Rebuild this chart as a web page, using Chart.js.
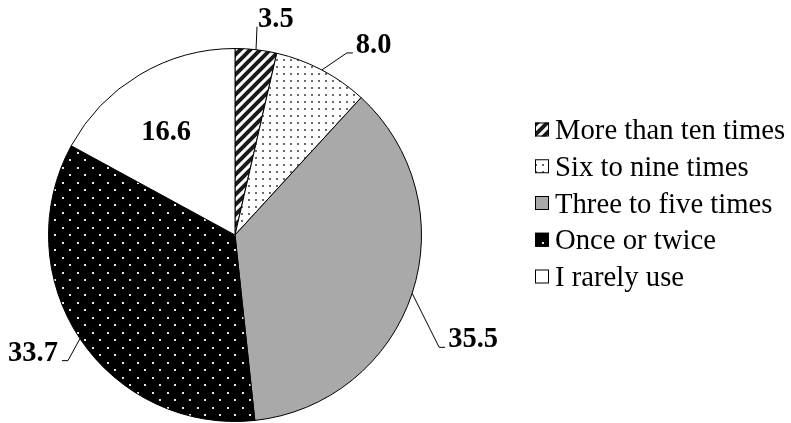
<!DOCTYPE html>
<html>
<head>
<meta charset="utf-8">
<script src="https://cdn.jsdelivr.net/npm/chart.js@4"></script>
<style>
  body { margin: 0; background: #fff; }
  #wrap { width: 791px; height: 423px; position: relative; }
</style>
</head>
<body>
<div id="wrap"><canvas id="myChart"></canvas></div>
<script>
const categories = ['More than ten times', 'Six to nine times', 'Three to five times', 'Once or twice', 'I rarely use'];
const shares = [3.5, 8.0, 35.5, 33.7, 16.6];
const valueLabels = ['3.5', '8.0', '35.5', '33.7', '16.6'];

const SERIF = "'Liberation Serif', 'Times New Roman', serif";

// little tiles for the hatch fills
function makeTile(w, h, draw) {
    const c = document.createElement('canvas');
    c.width = w; c.height = h;
    const g = c.getContext('2d');
    g.fillStyle = '#fff';
    g.fillRect(0, 0, w, h);
    draw(g, w, h);
    return g.createPattern(c, 'repeat');
}

const stripes = makeTile(10, 10, function (g, s) {
    g.strokeStyle = '#1a1a1a';
    g.lineWidth = 4;
    g.beginPath();
    g.moveTo(-2, s + 2); g.lineTo(s + 2, -2);
    g.moveTo(-2, 2); g.lineTo(2, -2);
    g.moveTo(s - 2, s + 2); g.lineTo(s + 2, s - 2);
    g.stroke();
});
const lightDots = makeTile(7, 7, function (g) {
    g.fillStyle = '#6a6a6a';
    g.fillRect(3, 3, 2, 2);
});
const darkDots = makeTile(15, 15, function (g, w, h) {
    g.fillStyle = '#000';
    g.fillRect(0, 0, w, h);
    g.fillStyle = '#e8e8e8';
    g.fillRect(2, 2, 2, 2);
    g.fillRect(9, 9, 2, 2);
});
const fills = [stripes, lightDots, '#a9a9a9', darkDots, '#ffffff'];

// where each value label goes: leader elbow offset from the rim, short tail, or inside
const labelSpots = [
    { elbow: [1, -23], tail: 0, side: 'right' },
    { elbow: [25, -17], tail: 6, side: 'right' },
    { elbow: [27, 54], tail: 6, side: 'right' },
    { elbow: [-12, 22], tail: -6, side: 'left' },
    { inside: 0.66 }
];

const valueLabelPlugin = {
    id: 'valueLabels',
    afterDatasetsDraw(chart) {
        const ctx = chart.ctx;
        const arcs = chart.getDatasetMeta(0).data;
        ctx.save();
        ctx.font = 'bold 28.5px ' + SERIF;
        ctx.fillStyle = '#000';
        ctx.strokeStyle = '#000';
        ctx.lineWidth = 1;
        ctx.textBaseline = 'alphabetic';
        arcs.forEach(function (arc, i) {
            const p = arc.getProps(['x', 'y', 'startAngle', 'endAngle', 'outerRadius'], true);
            const mid = (p.startAngle + p.endAngle) / 2;
            const spot = labelSpots[i];
            if (spot.inside) {
                const r = p.outerRadius * spot.inside;
                ctx.textAlign = 'center';
                ctx.fillText(valueLabels[i], p.x + Math.cos(mid) * r - 6, p.y + Math.sin(mid) * r + 11);
                return;
            }
            const ex = p.x + Math.cos(mid) * p.outerRadius;
            const ey = p.y + Math.sin(mid) * p.outerRadius;
            const bx = ex + spot.elbow[0], by = ey + spot.elbow[1];
            const tx = bx + spot.tail;
            ctx.beginPath();
            ctx.moveTo(ex, ey);
            ctx.lineTo(bx, by);
            ctx.lineTo(tx, by);
            ctx.stroke();
            if (spot.side === 'right') {
                ctx.textAlign = 'left';
                ctx.fillText(valueLabels[i], tx + (spot.tail ? 3 : 1), by);
            } else {
                ctx.textAlign = 'right';
                ctx.fillText(valueLabels[i], tx - 4, by);
            }
        });
        ctx.restore();
    }
};

// legend drawn by hand so it sits where the original has it
const sideLegend = {
    id: 'sideLegend',
    afterDraw(chart) {
        const ctx = chart.ctx;
        const ds = chart.data.datasets[0];
        ctx.save();
        ctx.font = '28.7px ' + SERIF;
        ctx.textAlign = 'left';
        ctx.textBaseline = 'alphabetic';
        chart.data.labels.forEach(function (lab, i) {
            const cy = 129.5 + i * 36.75;
            ctx.fillStyle = ds.backgroundColor[i];
            ctx.fillRect(535, cy - 7, 14, 14);
            ctx.strokeStyle = '#000';
            ctx.lineWidth = 1;
            ctx.strokeRect(535.5, cy - 6.5, 13, 13);
            ctx.fillStyle = '#000';
            ctx.fillText(lab, 555, cy + 9.5);
        });
        ctx.restore();
    }
};

const chart = new Chart(document.getElementById('myChart'), {
    type: 'pie',
    data: {
        labels: categories,
        datasets: [{
            data: shares,
            backgroundColor: fills,
            borderColor: '#000',
            borderWidth: 1
        }]
    },
    options: {
        responsive: true,
        maintainAspectRatio: false,
        animation: false,
        layout: { padding: { left: 48, top: 48, right: 369, bottom: 1 } },
        plugins: {
            legend: { display: false },
            tooltip: { enabled: false }
        }
    },
    plugins: [valueLabelPlugin, sideLegend]
});
</script>
</body>
</html>
